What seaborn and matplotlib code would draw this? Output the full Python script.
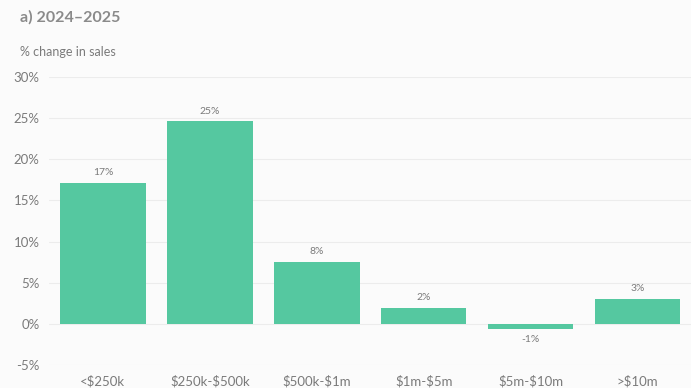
import matplotlib
matplotlib.use("Agg")
import matplotlib.pyplot as plt
import seaborn as sns
import pandas as pd

# Sales change by property price bracket, 2024–2025
brackets = ["<$250k", "$250k-$500k", "$500k-$1m", "$1m-$5m", "$5m-$10m", ">$10m"]
pct_change = [17.1, 24.6, 7.5, 1.9, -0.6, 3.0]
y_ticks = [-5, 0, 5, 10, 15, 20, 25, 30]

df = pd.DataFrame({"bracket": brackets, "change": pct_change})

sns.set_theme(style="white")
plt.rcParams["font.family"] = ["Lato", "DejaVu Sans"]
plt.rcParams["text.parse_math"] = False  # dollar signs are literal

BAR = "#55c8a0"
TXT = "#7a7a7a"
BG = "#fbfbfb"

fig = plt.figure(figsize=(6.91, 3.88), dpi=100, facecolor=BG)
ax = fig.add_axes([0.0716, 0.0593, 0.9284, 0.7422], facecolor=BG)

sns.barplot(data=df, x="bracket", y="change", color=BAR, saturation=1,
            width=0.8, ax=ax, edgecolor="none")

ax.set_ylim(-5, 30)
ax.set_xlim(-0.5, 5.5)
ax.set_yticks(y_ticks)
ax.set_yticklabels([f"{t}%" for t in y_ticks])
for t in y_ticks:
    ax.axhline(t, color="#ececec", lw=0.8, zorder=0)

ax.set_xlabel("")
ax.set_ylabel("")
for s in ax.spines.values():
    s.set_visible(False)
ax.tick_params(axis="y", length=0, pad=7, labelsize=9.5, labelcolor=TXT)
ax.tick_params(axis="x", length=0, pad=7, labelsize=9.5, labelcolor=TXT)

for i, v in enumerate(pct_change):
    if v >= 0:
        ax.text(i, v + 0.7, f"{round(v):.0f}%", ha="center", va="bottom",
                fontsize=7.5, color=TXT)
    else:
        ax.text(i, v - 0.7, f"{round(v):.0f}%", ha="center", va="top",
                fontsize=7.5, color=TXT)

fig.text(20 / 691, 1 - 17 / 388, "a) 2024–2025", ha="left", va="center",
         fontsize=11.5, fontweight="bold", color="#8a8a8a")
fig.text(20 / 691, 1 - 52 / 388, "% change in sales", ha="left", va="center",
         fontsize=9, color=TXT)

fig.savefig("out.png", dpi=100, facecolor=BG)
